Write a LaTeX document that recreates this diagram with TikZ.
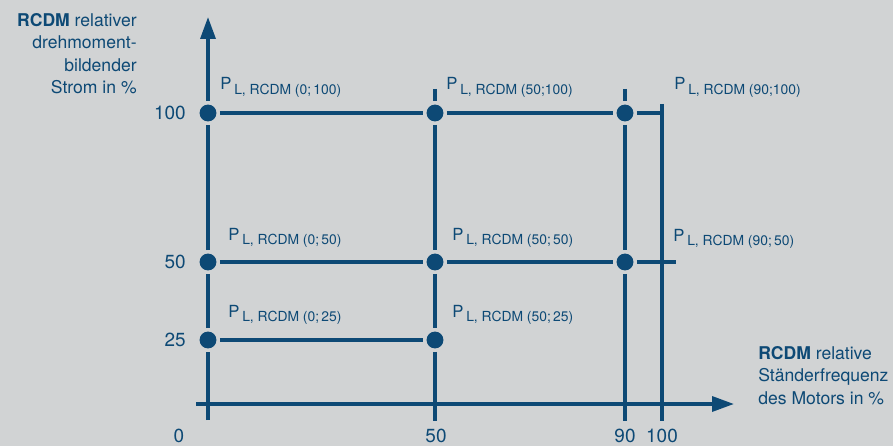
\documentclass[tikz,border=0pt]{standalone}
\usepackage{fontspec}
\setmainfont{TeX Gyre Heros}
\usetikzlibrary{arrows.meta}
\definecolor{rcdmblue}{RGB}{13,73,117}
\definecolor{bggrey}{RGB}{209,211,212}
\newcommand{\pL}[1]{P\,\raisebox{-2.8pt}{\fontsize{7.9}{9}\selectfont L, RCDM (#1)}}

\begin{document}
\begin{tikzpicture}[x=0.02cm,y=-0.02cm,
  ln/.style={line width=2pt,draw=rcdmblue},
  ax/.style={ln,-{Triangle[length=12.5pt,width=8.5pt]}},
  dot/.style={circle,fill=rcdmblue,minimum size=9.6pt,inner sep=0pt,outer sep=2pt},
  lb/.style={text=rcdmblue,font=\fontsize{10}{12.75}\selectfont,inner sep=0pt},
  tk/.style={lb,font=\fontsize{10.8}{13}\selectfont},
  pl/.style={text=rcdmblue,font=\fontsize{9.5}{11}\selectfont,inner sep=0pt,anchor=base west}]
\useasboundingbox (0,0) rectangle (893,446);
\fill[bggrey] (0,0) rectangle (893,446);
% Messpunkte
\node[dot] (a1) at (208,113) {};
\node[dot] (b1) at (435,113) {};
\node[dot] (c1) at (625,113) {};
\node[dot] (a2) at (208,262) {};
\node[dot] (b2) at (435,262) {};
\node[dot] (c2) at (625,262) {};
\node[dot] (a3) at (208,340) {};
\node[dot] (b3) at (435,340) {};
% Linienenden
\coordinate (yb) at (208,420); \coordinate (yt) at (208,17);
\coordinate (xl) at (196,404); \coordinate (xr) at (734,404);
\coordinate (bt) at (435,89);  \coordinate (bb) at (435,421);
\coordinate (ct) at (625,89);  \coordinate (cb) at (625,421);
\coordinate (dt) at (662,104); \coordinate (db) at (662,421);
\coordinate (d1) at (662,113); \coordinate (e2) at (676,262);
% Achsen
\draw[ax] (yb) -- (a3) -- (a2) -- (a1) -- (yt);
\draw[ax] (xl) -- (xr);
% Gitter
\draw[ln] (bt) -- (b1) -- (b2) -- (b3) -- (bb);
\draw[ln] (ct) -- (c1) -- (c2) -- (cb);
\draw[ln] (dt) -- (db);
\draw[ln] (a1) -- (b1) -- (c1) -- (d1);
\draw[ln] (a2) -- (b2) -- (c2) -- (e2);
\draw[ln] (a3) -- (b3);
% Beschriftung
\node[pl] (l01) at (220,90) {\pL{0;\,100}};
\node[pl] (l51) at (446,90) {\pL{50;100}};
\node[pl] (l91) at (674,90) {\pL{90;100}};
\node[pl] (l02) at (228,240) {\pL{0;\,50}};
\node[pl] (l52) at (452,240) {\pL{50;\,50}};
\node[pl] (l92) at (673,241) {\pL{90;\,50}};
\node[pl] (l03) at (228,317) {\pL{0;\,25}};
\node[pl] (l53) at (452,317) {\pL{50;\,25}};
\node[tk,anchor=east] (y100) at (186,113) {100};
\node[tk,anchor=east] (y50) at (186,262) {50};
\node[tk,anchor=east] (y25) at (186,340) {25};
\node[tk,anchor=base] (x0) at (179,442) {0};
\node[tk,anchor=base] (x50) at (436,442) {50};
\node[tk,anchor=base] (x90) at (625,442) {90};
\node[tk,anchor=base] (x100) at (662,442) {100};
\node[lb,align=right,anchor=north east] (ytitle) at (137,13) {\textbf{RCDM} relativer\\drehmoment-\\bildender\\Strom in \%};
\node[lb,align=left,anchor=north west] (xtitle) at (758,346) {\textbf{RCDM} relative\\Ständerfrequenz\\des Motors in \%};
\end{tikzpicture}
\end{document}
